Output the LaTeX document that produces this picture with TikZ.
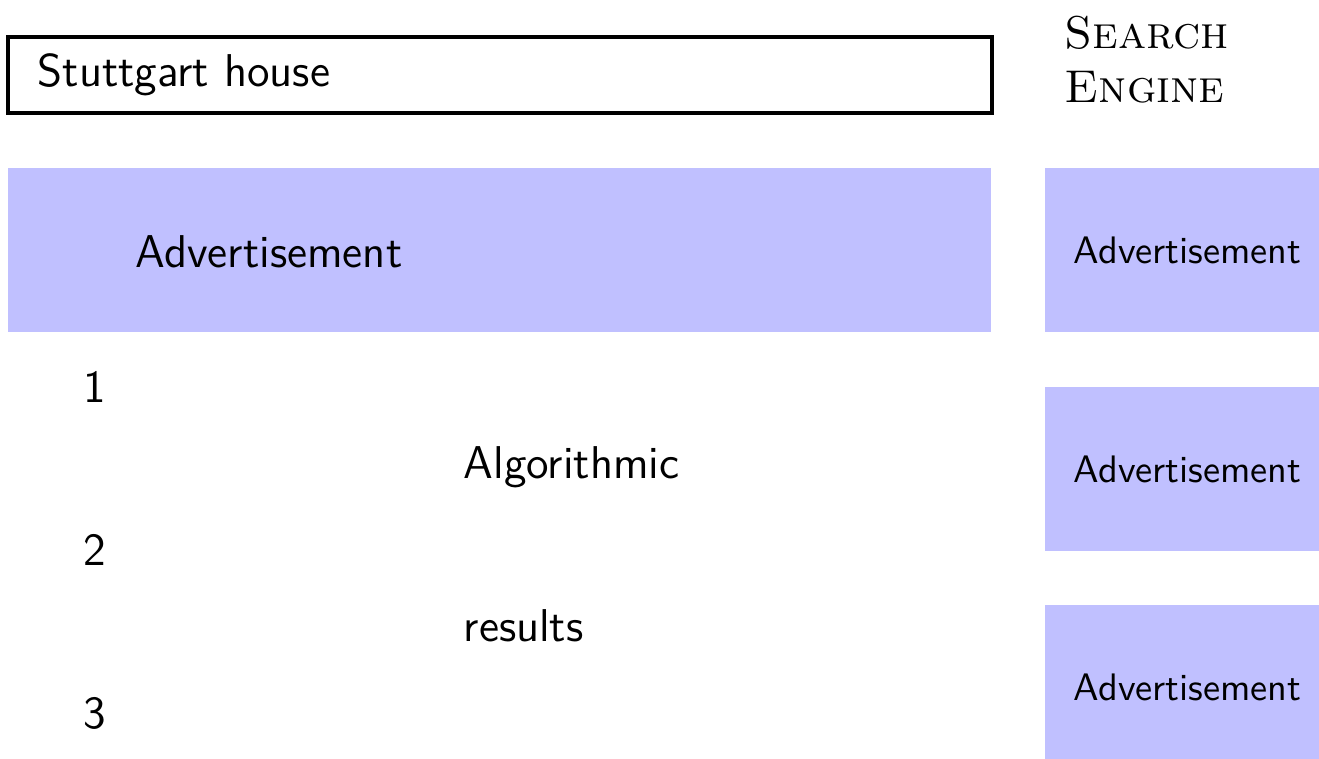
\documentclass[tikz,border=0pt]{standalone}
\definecolor{adfill}{RGB}{192,192,255}
\begin{document}
\begin{tikzpicture}[x=0.261pt,y=-0.261pt,
  querybox/.style={draw=black, line width=1pt},
  adbox/.style={fill=adfill, draw=none},
  txt/.style={inner sep=0pt, anchor=base west, font=\sffamily\large},
  adtxt/.style={inner sep=0pt, anchor=base west, font=\sffamily}]
\useasboundingbox (0,0) rectangle (1319,758);
\clip (0,0) rectangle (1319,758);

% query field
\draw[querybox] (8,37) rectangle (992,113);
\node[txt] (query) at (37,86) {Stuttgart house};

% engine name (base anchor sits on the last line)
\node[inner sep=0pt, anchor=base west, align=left, font=\large\scshape] (engine) at (1064,102) {Search\\Engine};

% top banner advertisement
\fill[adbox] (8,168) rectangle (991,332);
\node[txt] (adtop) at (135,267) {Advertisement};

% side advertisements
\fill[adbox] (1045,168) rectangle (1330,332);
\node[adtxt] (side1) at (1073,263) {Advertisement};
\fill[adbox] (1045,387) rectangle (1330,551);
\node[adtxt] (side2) at (1073,482) {Advertisement};
\fill[adbox] (1045,605) rectangle (1330,769);
\node[adtxt] (side3) at (1073,700) {Advertisement};

% organic results
\node[txt] (rank1) at (83,402) {1};
\node[txt] (rank2) at (83,565) {2};
\node[txt] (rank3) at (83,728) {3};
\node[txt] (algo) at (463,478) {Algorithmic};
\node[txt] (res) at (463,641) {results};
\end{tikzpicture}
\end{document}
